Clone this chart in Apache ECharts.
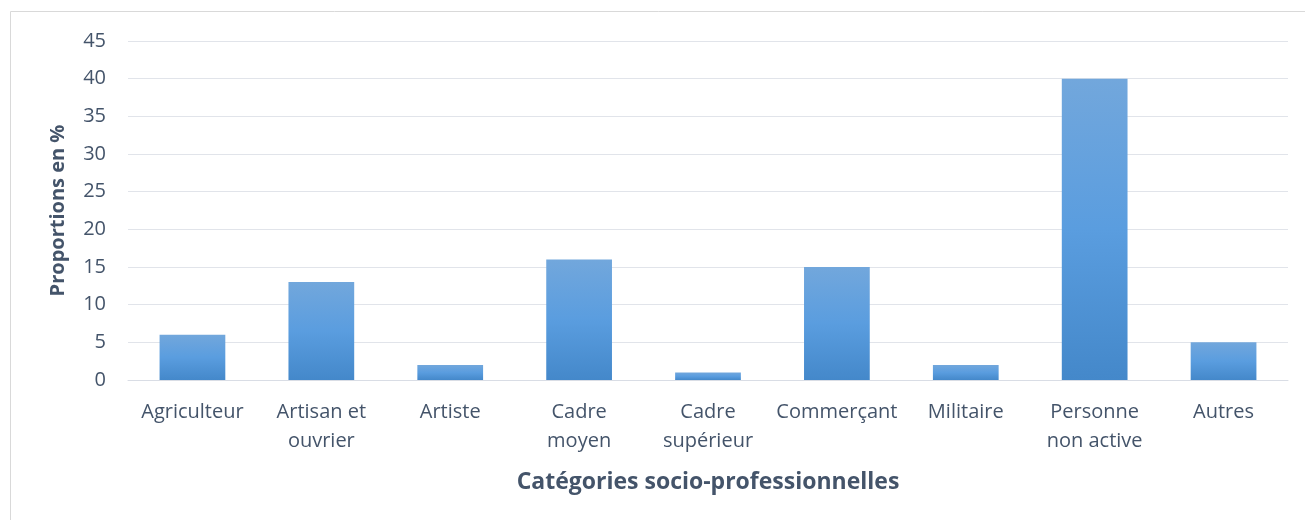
<!DOCTYPE html>
<html>
<head>
<meta charset="utf-8">
<script src="https://cdn.jsdelivr.net/npm/echarts@6/dist/echarts.min.js"></script>
<style>
  html, body { margin: 0; padding: 0; background: #fff; }
  #chart { width: 1305px; height: 520px; }
</style>
</head>
<body>
<div id="chart"></div>
<script>
// catégories et valeurs
const categories = ['Agriculteur', 'Artisan et\nouvrier', 'Artiste', 'Cadre\nmoyen', 'Cadre\nsupérieur', 'Commerçant', 'Militaire', 'Personne\nnon active', 'Autres']
const proportions = [6, 13, 2, 16, 1, 15, 2, 40, 5]

const textColor = '#44546a'
const font = 'Open Sans'

const chart = echarts.init(document.getElementById('chart'))
const option = {
  animation: false,
  graphic: [{
    type: 'rect',
    shape: { x: 10.5, y: 11.5, width: 1300, height: 520 },
    style: { fill: 'none', stroke: '#d9d9d9', lineWidth: 1 },
    silent: true
  }],
  grid: {
    left: 128,
    right: 17,
    top: 41,
    bottom: 140
  },
  xAxis: {
    type: 'category',
    data: categories,
    name: 'Catégories socio-professionnelles',
    nameLocation: 'middle',
    nameGap: 91,
    nameTextStyle: {
      color: textColor,
      fontFamily: font,
      fontSize: 23,
      fontWeight: 'bold'
    },
    axisLine: { show: true, lineStyle: { color: '#d9dde5', width: 1 } },
    axisTick: { show: false },
    axisLabel: {
      color: textColor,
      fontFamily: font,
      fontSize: 20,
      margin: 18,
      lineHeight: 29,
      interval: 0
    }
  },
  yAxis: {
    type: 'value',
    min: 0,
    max: 45,
    interval: 5,
    name: 'Proportions en %',
    nameLocation: 'middle',
    nameRotate: 90,
    nameGap: 60,
    nameTextStyle: {
      color: textColor,
      fontFamily: font,
      fontSize: 20,
      fontWeight: 'bold'
    },
    axisLine: { show: false },
    axisTick: { show: false },
    axisLabel: {
      color: textColor,
      fontFamily: font,
      fontSize: 20,
      margin: 22
    },
    splitLine: { lineStyle: { color: '#e1e4ea', width: 1 } }
  },
  series: [{
    type: 'bar',
    data: proportions,
    barWidth: '51%',
    itemStyle: {
      // dégradé vertical façon Excel
      color: new echarts.graphic.LinearGradient(0, 0, 0, 1, [
        { offset: 0, color: '#72a7dc' },
        { offset: 0.5, color: '#5a9ddf' },
        { offset: 1, color: '#4488ca' }
      ])
    }
  }]
}
chart.setOption(option)
</script>
</body>
</html>
